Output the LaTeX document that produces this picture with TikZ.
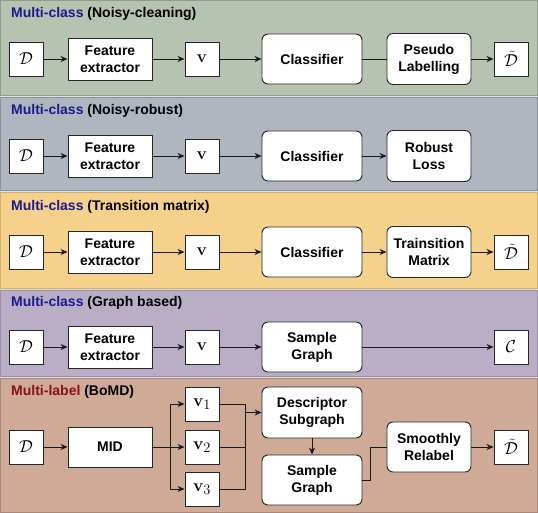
\documentclass[tikz,border=0pt]{standalone}
\usepackage[no-math]{fontspec}
\setmainfont{Liberation Sans}
\usetikzlibrary{arrows.meta}
\definecolor{pA}{HTML}{B5C3B0}
\definecolor{pAd}{HTML}{8E9C8A}
\definecolor{pB}{HTML}{AFB6BF}
\definecolor{pBd}{HTML}{8A9099}
\definecolor{pC}{HTML}{F5D18B}
\definecolor{pCd}{HTML}{D0AE6E}
\definecolor{pD}{HTML}{BAAEC7}
\definecolor{pDd}{HTML}{9A8FA6}
\definecolor{pE}{HTML}{CFAA97}
\definecolor{pEd}{HTML}{A68878}
\definecolor{ttblue}{HTML}{1A1A8C}
\definecolor{ttred}{HTML}{8C1010}
\begin{document}
\begin{tikzpicture}[x=1pt,y=-1pt,
  every node/.style={font=\bfseries\fontsize{14}{17}\selectfont},
  sq/.style={draw=black!85, line width=0.9pt, fill=white, minimum width=34pt, minimum height=34pt, inner sep=0pt, font=\fontsize{19}{22}\selectfont},
  fe/.style={draw=black!85, line width=0.9pt, fill=white, minimum width=84pt, minimum height=42pt, inner sep=0pt, align=center},
  rb/.style={draw=black!85, line width=0.9pt, fill=white, rounded corners=6pt, minimum width=100pt, minimum height=50pt, inner sep=0pt, align=center},
  pb/.style={draw=black!85, line width=0.9pt, fill=white, rounded corners=6pt, minimum width=84pt, minimum height=51pt, inner sep=0pt, align=center},
  ttl/.style={anchor=west, inner sep=0pt},
  ln/.style={draw=black!90, line width=0.9pt},
  arr/.style={ln, -{Stealth[length=7pt,width=6pt]}},
  panel/.style={line width=1pt}
]
\useasboundingbox (0,0) rectangle (538,513);
\fill[black!12] (0,0) rectangle (538,513);
% panels
\filldraw[panel, fill=pA, draw=pAd] (0.5,0.5) rectangle (537.5,96);
\filldraw[panel, fill=pB, draw=pBd] (0.5,98) rectangle (537.5,191);
\filldraw[panel, fill=pC, draw=pCd] (0.5,193) rectangle (537.5,288);
\filldraw[panel, fill=pD, draw=pDd] (0.5,290) rectangle (537.5,376);
\filldraw[panel, fill=pE, draw=pEd] (0.5,378) rectangle (537.5,512.5);

% ---------- Panel 1
\node[ttl] (t1) at (11,14) {\textcolor{ttblue}{Multi-class} (Noisy-cleaning)};
\node[sq] (d1) at (26,59) {$\mathcal{D}$};
\node[fe] (f1) at (110,59) {Feature\\extractor};
\node[sq] (v1) at (202,59) {$\mathbf{v}$};
\node[rb] (c1) at (312,59) {Classifier};
\node[pb] (p1) at (429,59) {Pseudo\\Labelling};
\node[sq] (o1) at (511,59) {$\tilde{\mathcal{D}}$};
\draw[arr] (d1) -- (f1);
\draw[arr] (f1) -- (v1);
\draw[arr] (v1) -- (c1);
\draw[ln] (c1) -- (p1);
\draw[arr] (p1) -- (o1);

% ---------- Panel 2
\node[ttl] (t2) at (11,111) {\textcolor{ttblue}{Multi-class} (Noisy-robust)};
\node[sq] (d2) at (26,156) {$\mathcal{D}$};
\node[fe] (f2) at (110,156) {Feature\\extractor};
\node[sq] (v2) at (202,156) {$\mathbf{v}$};
\node[rb] (c2) at (312,156) {Classifier};
\node[pb] (p2) at (429,156) {Robust\\Loss};
\draw[arr] (d2) -- (f2);
\draw[arr] (f2) -- (v2);
\draw[arr] (v2) -- (c2);
\draw[arr] (c2) -- (p2);

% ---------- Panel 3
\node[ttl] (t3) at (11,207) {\textcolor{ttblue}{Multi-class} (Transition matrix)};
\node[sq] (d3) at (26,252) {$\mathcal{D}$};
\node[fe] (f3) at (110,252) {Feature\\extractor};
\node[sq] (v3) at (202,252) {$\mathbf{v}$};
\node[rb] (c3) at (312,252) {Classifier};
\node[pb] (p3) at (429,252) {Trainsition\\Matrix};
\node[sq] (o3) at (511,252) {$\tilde{\mathcal{D}}$};
\draw[arr] (d3) -- (f3);
\draw[arr] (f3) -- (v3);
\draw[arr] (v3) -- (c3);
\draw[arr] (c3) -- (p3);
\draw[arr] (p3) -- (o3);

% ---------- Panel 4
\node[ttl] (t4) at (11,303) {\textcolor{ttblue}{Multi-class} (Graph based)};
\node[sq] (d4) at (26,347) {$\mathcal{D}$};
\node[fe] (f4) at (110,347) {Feature\\extractor};
\node[sq] (v4) at (202,347) {$\mathbf{v}$};
\node[rb] (s4) at (312,347) {Sample\\Graph};
\node[sq] (o4) at (511,347) {$\mathcal{C}$};
\draw[arr] (d4) -- (f4);
\draw[arr] (f4) -- (v4);
\draw[arr] (v4) -- (s4);
\draw[arr] (s4) -- (o4);

% ---------- Panel 5
\node[ttl] (t5) at (11,392) {\textcolor{ttred}{Multi-label} (BoMD)};
\node[sq] (d5) at (26,447) {$\mathcal{D}$};
\node[fe, minimum height=40pt] (m5) at (110,447) {MID};
\node[sq] (va) at (202,404) {$\mathbf{v}_1$};
\node[sq] (vb) at (202,447) {$\mathbf{v}_2$};
\node[sq] (vc) at (202,489) {$\mathbf{v}_3$};
\node[rb, minimum height=51pt] (ds) at (312,412.5) {Descriptor\\Subgraph};
\node[rb] (sg) at (312,480) {Sample\\Graph};
\node[pb, minimum height=50pt] (sr) at (429,447) {Smoothly\\Relabel};
\node[sq] (o5) at (511,447) {$\tilde{\mathcal{D}}$};
\coordinate (ja) at (170,447);
\coordinate (jb) at (245,412.5);
\coordinate (jc) at (370,447);
\draw[arr] (d5) -- (m5);
\draw[ln] (m5) -- (ja);
\draw[arr] (ja) |- (va.west);
\draw[arr] (ja) -- (vb.west);
\draw[arr] (ja) |- (vc.west);
\draw[ln] (va.east) -| (jb);
\draw[ln] (vb.east) -| (jb);
\draw[ln] (vc.east) -| (jb);
\draw[arr] (jb) -- (ds.west);
\draw[arr] (ds) -- (sg);
\draw[ln] (sg.east) -| (jc) -- (sr.west);
\draw[arr] (sr) -- (o5);
\end{tikzpicture}
\end{document}
